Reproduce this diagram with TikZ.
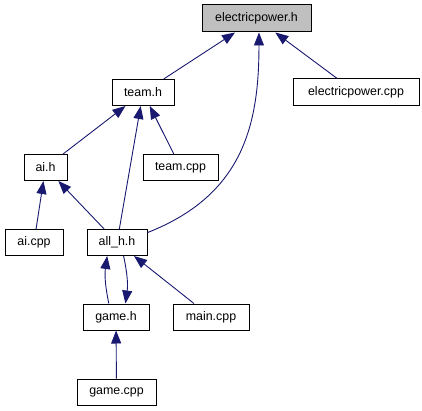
\documentclass[tikz,border=0pt]{standalone}
\usepackage{fontspec}
\setmainfont{Liberation Sans}
\usetikzlibrary{arrows.meta}
\definecolor{edgeblue}{HTML}{191970}
\definecolor{boxgray}{HTML}{BFBFBF}

\begin{document}
\begin{tikzpicture}[
    x=1pt, y=-1pt,
    file/.style={rectangle, draw=black, fill=white, line width=1pt, minimum height=26pt, inner sep=0pt, font=\fontsize{12.4}{14}\selectfont},
    current/.style={file, fill=boxgray},
    edge/.style={draw=edgeblue, line width=0.9pt, -{Triangle[length=13pt,width=10pt]}}
  ]
    \useasboundingbox (0,0) rectangle (422,411);

    % Nodes
    \node (ep_h) [current, minimum width=109pt, minimum height=27pt] at (256.5,18.5) {electricpower.h};
    \node (ep_cpp) [file, minimum width=126pt, minimum height=27pt] at (356,92.5) {electricpower.cpp};
    \node (team_h) [file, minimum width=62pt] at (143,92.5) {team.h};
    \node (ai_h) [file, minimum width=43pt] at (45.5,167.5) {ai.h};
    \node (team_cpp) [file, minimum width=75pt] at (180.5,167.5) {team.cpp};
    \node (ai_cpp) [file, minimum width=58pt] at (34,242.5) {ai.cpp};
    \node (all_h) [file, minimum width=60pt] at (117,242.5) {all\_h.h};
    \node (game_h) [file, minimum width=66pt] at (116,317) {game.h};
    \node (main_cpp) [file, minimum width=76pt] at (211,317) {main.cpp};
    \node (game_cpp) [file, minimum width=79pt] at (116.5,392) {game.cpp};

    % Connections
    \draw [edge] (team_h) -- (ep_h);
    \draw [edge] (ep_cpp) -- (ep_h);
    \draw [edge] (all_h.18) .. controls (243,195) and (259,125) .. (ep_h.280);
    \draw [edge] (ai_h) -- (team_h);
    \draw [edge] (all_h) -- (team_h);
    \draw [edge] (team_cpp) -- (team_h);
    \draw [edge] (ai_cpp) -- (ai_h);
    \draw [edge] (all_h) -- (ai_h);
    \draw [edge] (game_h.118) to[bend left=10] (all_h.234);
    \draw [edge] (all_h.296) to[bend left=10] (game_h.55);
    \draw [edge] (main_cpp) -- (all_h);
    \draw [edge] (game_cpp) -- (game_h);

  \end{tikzpicture}
\end{document}
